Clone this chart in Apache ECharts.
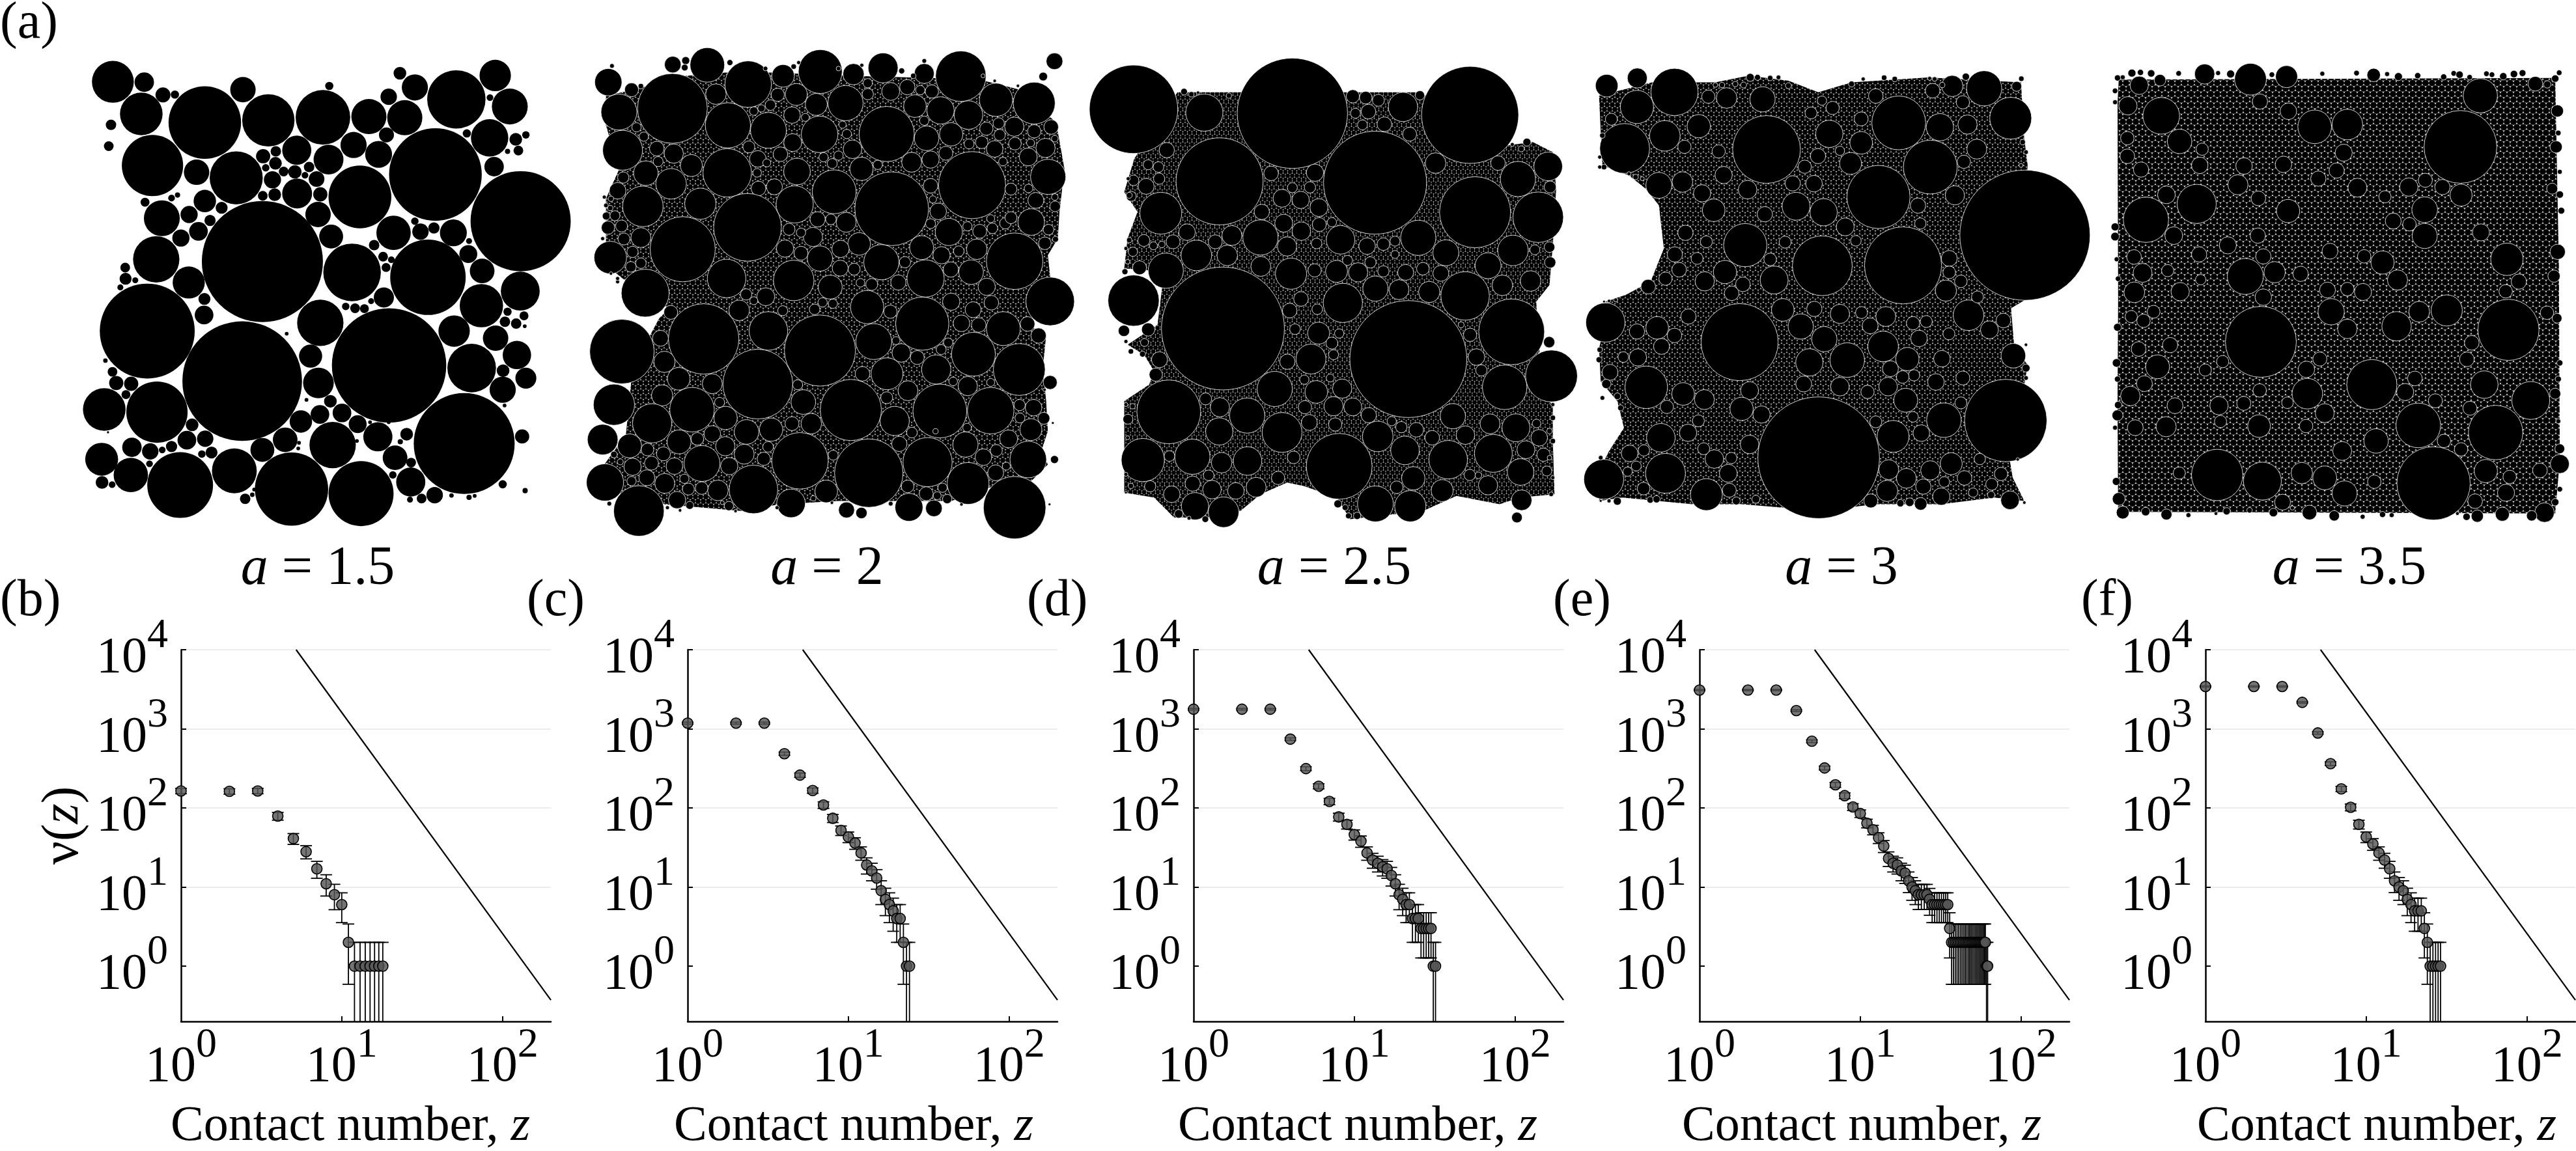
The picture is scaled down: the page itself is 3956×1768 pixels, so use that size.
<!DOCTYPE html>
<html><head><meta charset="utf-8">
<style>html,body{margin:0;padding:0;background:#fff}#c{width:3956px;height:1768px}</style>
<script src="https://cdn.jsdelivr.net/npm/echarts@6/dist/echarts.min.js"></script>
</head><body><div id="c"></div>
<script>
// ---------- contact-number distributions ----------
const zB=[1,2,3,4,5,6,7,8,9,10,11,12,13,14,15,16,17,18];
const vB=[164,162,164,79,41,28,17,11,8,6,2,1,1,1,1,1,1,1];
const eB=[12.8,12.7,12.8,8.9,6.4,5.3,4.1,3.3,2.83,2.45,1.41,1,1,1,1,1,1,1];
const zC=[1,2,3,4,5,6,7,8,9,10,11,12,13,14,15,16,17,18,19,20,21,22,23,24];
const vC=[1180,1180,1180,485,260,166,109,74,52,43,36,27,19,16,13,9,7,6,5,4,4,2,1,1];
const eC=[34.4,34.4,34.4,22,16.1,12.9,10.4,8.6,7.2,6.6,6,5.2,4.4,4,3.6,3,2.65,2.45,2.24,2,2,1.41,1,1];
const zD=[1,2,3,4,5,6,7,8,9,10,11,12,13,14,15,16,17,18,19,20,21,22,23,24,25,26,27,28,29,30,31,32];
const vD=[1770,1770,1770,741,314,188,121,77,62,46,38,27,22,20,18,17,14,11,8,7,6,6,4,4,4,3,3,3,3,3,1,1];
const eD=[42,42,42,27.2,17.7,13.7,11,8.8,7.9,6.8,6.2,5.2,4.7,4.5,4.2,4.1,3.7,3.3,2.83,2.65,2.45,2.45,2,2,2,1.73,1.73,1.73,1.73,1.73,1,1];
const zE=[1,2,3,4,5,6,7,8,9,10,11,12,13,14,15,16,17,18,19,20,21,22,23,24,25,26,27,28,29,30,31,32,33,34,35,36,37,38,39,40,41,42,43,44,45,46,47,48,49,50,51,52,53,54,55,56,57,58,59,60,61,62];
const vE=[3090,3090,3090,1700,697,320,196,143,103,85,64,53,42,33,23,20,19,16,15,12,10,9,8,8,8,8,7,6,6,6,6,6,6,6,6,3,2,2,2,2,2,2,2,2,2,2,2,2,2,2,2,2,2,2,2,2,2,2,2,2,1,1];
const eE=[55.6,55.6,55.6,41.2,26.4,17.9,14,12,10.1,9.2,8,7.3,6.5,5.7,4.8,4.5,4.4,4,3.9,3.5,3.2,3,2.8,2.8,2.8,2.8,2.6,2.45,2.45,2.45,2.45,2.45,2.45,2.45,2.45,1.73,1.41,1.41,1.41,1.41,1.41,1.41,1.41,1.41,1.41,1.41,1.41,1.41,1.41,1.41,1.41,1.41,1.41,1.41,1.41,1.41,1.41,1.41,1.41,1.41,1,1];
const zF=[1,2,3,4,5,6,7,8,9,10,11,12,13,14,15,16,17,18,19,20,21,22,23,24,25,26,27,28,29];
const vF=[3430,3430,3430,2160,886,363,174,102,62,43,35,27,22,17,12,10,9,7,6,5,5,5,3,2,1,1,1,1,1];
const eF=[58.6,58.6,58.6,46.5,29.8,19.1,13.2,10.1,7.9,6.6,5.9,5.2,4.7,4.1,3.5,3.2,3,2.65,2.45,2.24,2.24,2.24,1.73,1.41,1,1,1,1,1];
const refLineZ=[5.2,200];
const refLineV=[10000,0.373];
const panelLetters=['(b)','(c)','(d)','(e)','(f)'];
const aLabels=['1.5','2','2.5','3','3.5'];
const xTicks=[10,100];
const yTicks=[1,10,100,1000,10000];

// ---------- packings: [x, y, r] circles ----------
const pack15=[[302,219,56],[386,220,26],[378,305,57],[436,254,20],[468,253,11],[548,328,97],[650,240,34],[718,322,70],[864,314,73],[881,230,11],[987,312,47],[1040,259,22],[1083,315,47],[1070,196,17],[1110,234,35],[1221,266,78],[1325,202,42],[1364,285,48],[1310,369,50],[1034,361,20],[946,388,35],[1013,413,36],[879,427,40],[794,402,39],[1165,467,124],[1393,592,134],[1322,446,26],[1249,357,11],[1311,261,9],[1380,373,17],[1407,361,10],[1387,403,13],[1358,405,7],[297,334,14],[291,391,13],[408,443,82],[526,461,34],[632,476,71],[548,538,30],[738,405,14],[704,418,19],[737,437,17],[711,449,10],[759,459,13],[789,460,18],[729,481,23],[735,521,17],[703,524,13],[795,518,40],[827,447,14],[847,479,21],[857,520,19],[816,469,9],[963,527,84],[851,574,34],[886,633,32],[433,584,48],[506,574,23],[531,619,25],[484,637,23],[562,590,15],[593,556,16],[702,700,162],[418,694,62],[505,756,43],[335,716,13],[336,746,16],[362,750,8],[322,769,8],[394,886,127],[547,800,16],[546,843,25],[857,864,62],[942,729,77],[1053,623,46],[1125,620,22],[1161,610,15],[1213,623,36],[1110,592,10],[1145,742,101],[1001,656,14],[1025,687,13],[1033,716,12],[1047,695,9],[1253,680,24],[1290,725,33],[1392,779,52],[1027,796,27],[975,826,12],[925,820,10],[950,825,13],[993,806,8],[1288,818,58],[1215,886,42],[1358,834,11],[1402,845,12],[1351,861,14],[1381,866,14],[1404,873,5],[1326,905,34],[1383,950,38],[1407,1012,28],[1346,992,17],[1345,1043,35],[1262,985,65],[1041,978,153],[648,1020,160],[831,953,31],[852,1025,41],[884,1074,17],[856,1109,25],[915,1105,25],[805,1128,30],[957,1135,24],[1011,1169,39],[890,1191,62],[763,1177,33],[702,1204,32],[1242,1187,135],[1397,1168,19],[1088,1162,17],[1071,1182,7],[1057,1225,33],[1100,1238,13],[1051,1271,10],[1099,1290,39],[1163,1325,22],[1128,1334,13],[1097,1337,8],[1208,1326,6],[1255,1331,7],[1270,1327,5],[1345,1296,11],[1405,1313,7],[301,995,13],[311,1025,19],[351,1027,19],[337,1056,12],[279,1096,57],[420,1103,82],[514,1137,17],[500,1178,25],[549,1174,22],[459,1195,15],[402,1208,22],[353,1197,26],[434,1204,9],[272,1229,44],[350,1271,46],[273,1291,17],[300,1297,9],[482,1298,88],[566,1211,16],[540,1215,10],[400,1241,9],[627,1260,60],[780,1309,98],[966,1321,87],[656,1335,14],[675,1324,6],[289,1157,3],[282,965,6],[388,541,12],[459,530,9],[475,522,7],[1255,645,8],[1350,1085,5],[820,1070,5],[767,893,5],[680,1310,5],[800,1185,5],[798,1200,5],[955,1180,5],[990,1130,5],[1040,1130,5]];
const pack20=[[67,169,41],[78,120,7],[137,192,21],[165,181,8],[99,259,54],[260,248,105],[261,116,25],[300,104,12],[297,125,10],[365,117,52],[391,205,31],[488,175,70],[433,110,9],[593,150,34],[705,137,66],[805,145,32],[894,126,45],[1018,143,30],[1018,105,7],[1128,151,76],[1410,106,25],[1376,152,13],[110,374,60],[427,299,68],[549,314,54],[577,207,20],[633,206,33],[693,236,33],[781,232,53],[848,205,17],[917,197,27],[967,184,23],[1006,193,14],[1041,197,20],[990,241,34],[1067,254,41],[1151,268,43],[1234,222,50],[1349,232,63],[703,326,55],[905,325,83],[1025,338,37],[1099,326,35],[1018,285,14],[848,172,14],[1205,309,20],[1242,293,17],[1289,303,29],[1349,317,20],[1400,304,22],[1411,339,10],[1245,328,17],[1191,350,19],[1153,355,15],[1083,383,21],[1037,402,26],[980,410,30],[1230,370,25],[1291,354,19],[1338,352,12],[1383,367,29],[1331,394,27],[1255,408,13],[1391,454,53],[1162,479,101],[622,351,27],[505,256,13],[528,248,11],[555,238,16],[620,268,25],[660,275,12],[772,297,11],[785,325,14],[802,371,28],[760,390,14],[715,395,14],[741,414,15],[829,430,35],[878,418,14],[635,438,40],[585,386,22],[517,400,25],[490,364,18],[425,442,73],[213,369,22],[264,384,29],[317,420,33],[180,443,37],[256,475,46],[217,408,15],[174,333,14],[152,305,14],[112,456,17],[95,496,25],[171,543,61],[344,535,47],[519,489,22],[567,484,24],[515,442,13],[544,412,12],[486,606,102],[747,499,66],[628,537,56],[920,550,111],[1037,481,22],[1044,522,11],[1060,558,25],[1037,595,15],[1092,620,41],[1148,603,14],[1185,618,21],[1223,609,16],[1262,594,17],[1218,580,12],[1279,577,18],[1279,491,18],[1332,489,13],[1354,525,24],[1340,590,40],[1412,543,16],[1411,515,10],[1392,613,16],[1381,654,19],[1413,642,9],[1290,708,85],[1176,672,31],[1122,678,16],[1070,690,26],[1010,667,36],[889,711,53],[960,711,17],[1022,760,56],[1098,733,23],[1159,741,37],[1206,785,26],[1397,829,73],[291,672,98],[165,637,30],[114,641,18],[107,602,18],[66,607,20],[61,572,12],[87,571,15],[73,548,8],[73,697,49],[135,725,16],[140,680,17],[165,714,16],[178,804,72],[423,760,58],[625,766,61],[735,786,36],[846,846,50],[940,772,23],[860,778,18],[826,773,13],[807,732,18],[765,729,24],[704,700,38],[647,684,21],[599,670,26],[683,635,29],[822,656,34],[766,671,26],[611,612,18],[647,622,14],[697,582,23],[737,582,16],[783,591,30],[541,815,27],[482,808,17],[505,827,12],[461,856,31],[592,857,15],[688,853,16],[712,832,14],[743,836,14],[255,862,21],[354,942,106],[549,918,58],[108,980,97],[224,940,24],[236,1011,32],[704,977,107],[866,950,54],[1012,896,80],[916,860,20],[933,947,12],[949,984,28],[997,998,21],[1054,1034,44],[1069,974,15],[1090,953,14],[1166,988,66],[1130,895,25],[1182,900,22],[1165,854,24],[1099,830,26],[1220,833,22],[1256,911,51],[1329,897,22],[1362,932,23],[1304,1034,78],[517,1078,105],[279,1062,34],[380,1077,30],[229,1112,32],[84,1140,62],[319,1155,67],[199,1196,59],[402,1133,15],[420,1180,35],[654,1132,37],[797,1156,92],[637,1080,15],[905,1119,18],[906,1047,48],[832,1047,22],[969,1098,30],[1065,1159,81],[1218,1158,70],[1105,1070,13],[1149,1084,29],[1218,1073,12],[1397,1073,21],[1347,1149,25],[1305,1141,17],[1306,1180,15],[1378,1181,18],[1339,1215,33],[1147,1209,13],[929,1189,44],[981,1224,16],[943,1258,23],[1052,1220,8],[483,1222,37],[557,1215,35],[620,1197,21],[678,1197,31],[380,1228,25],[280,1252,36],[335,1243,19],[131,1264,36],[50,1245,46],[185,1275,19],[233,1288,21],[419,1265,29],[476,1289,30],[548,1267,16],[535,1303,20],[644,1309,85],[744,1292,15],[851,1346,103],[1028,1313,74],[1142,1260,38],[1272,1243,27],[1235,1278,18],[1196,1298,25],[1331,1305,55],[1410,1305,12],[1233,1345,24],[1150,1377,63],[349,1317,54],[266,1325,25],[197,1316,21],[140,1327,26],[237,1377,30],[183,1360,24],[431,1325,26],[504,1395,73],[397,1398,31],[348,1391,19],[308,1394,18],[57,1374,56],[159,1460,76],[274,1427,26],[312,1443,12],[617,1437,43],[723,1401,34],[784,1457,24],[829,1466,17],[972,1449,42],[968,1386,19],[1024,1408,21],[1057,1414,12],[1073,1390,14],[1047,1452,25],[1087,1424,14],[1290,1450,94],[1265,1325,12],[296,1363,14],[137,1370,14],[84,1290,10],[103,1312,9],[70,1438,7],[430,1445,14],[684,1422,8],[917,1438,7],[540,128,7],[625,122,8],[640,110,6],[760,128,7],[830,118,6],[950,135,9],[985,150,8],[1195,150,6],[1230,165,5],[1300,180,5],[55,515,6],[75,520,8],[60,540,7],[50,640,6],[95,770,6],[75,745,5],[95,760,6],[245,1450,6],[283,1458,5],[410,1435,6],[450,1460,5],[575,1450,6],[740,1435,5],[1130,1440,5],[1395,1440,4],[1380,1095,5],[1405,1195,4]];
const pack25=[[178,231,133],[391,241,56],[656,243,166],[989,224,44],[1191,248,146],[838,192,20],[877,196,19],[915,204,18],[846,243,15],[885,238,22],[933,276,22],[1009,306,21],[867,278,15],[1040,189,14],[437,448,131],[905,452,155],[592,424,22],[724,422,26],[1087,393,31],[1275,393,22],[1335,441,53],[1426,403,43],[1432,465,18],[1206,541,107],[1396,556,76],[278,354,23],[222,398,15],[253,405,16],[255,440,17],[216,463,24],[178,445,16],[171,493,15],[260,544,63],[625,499,27],[681,504,26],[736,527,27],[656,467,15],[709,466,17],[564,540,23],[630,574,27],[683,598,28],[737,578,21],[560,617,53],[640,644,29],[801,624,43],[729,635,16],[775,571,14],[881,643,25],[930,637,19],[965,628,15],[1035,618,53],[1118,663,39],[1320,656,46],[1245,702,39],[1430,646,16],[1432,692,17],[1386,654,15],[339,601,25],[297,630,21],[424,630,21],[474,611,30],[209,626,18],[176,660,14],[238,642,12],[263,638,10],[367,671,46],[460,671,31],[275,717,53],[196,708,21],[561,704,30],[652,726,47],[723,716,20],[789,719,33],[854,722,29],[822,686,15],[891,692,17],[930,719,17],[965,668,12],[997,722,24],[1049,711,19],[1103,725,24],[906,771,38],[977,774,30],[1068,781,32],[1176,793,73],[1288,761,31],[1373,748,31],[808,814,59],[682,802,22],[731,833,16],[648,837,22],[178,807,77],[447,891,185],[1005,983,176],[1316,901,99],[1191,910,20],[1164,880,9],[1429,932,17],[149,898,17],[222,894,20],[211,933,12],[735,905,33],[664,893,16],[797,906,14],[775,935,18],[712,983,45],[641,991,23],[780,970,15],[256,985,24],[245,1030,20],[1210,977,25],[1295,1068,67],[1436,1034,78],[1225,1017,17],[603,1073,53],[692,1045,14],[728,1082,34],[806,1072,29],[770,1040,12],[284,1142,96],[395,1103,18],[438,1128,29],[520,1153,53],[625,1204,60],[694,1128,20],[707,1174,24],[780,1125,29],[838,1127,27],[886,1152,23],[955,1170,14],[1139,1155,38],[1029,1196,22],[984,1188,17],[436,1201,41],[785,1180,20],[913,1216,46],[1077,1220,22],[1177,1212,28],[1251,1178,30],[1329,1190,42],[1399,1220,25],[1391,1177,13],[161,1164,15],[206,1287,65],[355,1277,53],[443,1295,31],[521,1290,43],[797,1306,99],[995,1258,43],[1125,1286,58],[1261,1267,57],[1359,1256,27],[1412,1271,20],[1343,1323,40],[286,1275,16],[660,1279,19],[1020,1342,35],[1190,1332,17],[1216,1333,10],[1245,1363,29],[1107,1379,33],[970,1369,19],[906,1419,54],[1011,1426,47],[613,1341,20],[547,1369,30],[486,1380,25],[414,1376,28],[356,1358,23],[293,1390,25],[228,1366,17],[363,1426,41],[449,1444,46],[404,1333,16],[1346,1408,31],[1332,1460,16],[1422,1320,15],[314,1449,13],[394,1465,10],[851,1455,11],[793,1419,12],[330,178,10],[352,186,8],[372,181,5],[465,190,8],[1362,330,12],[1345,350,9],[1318,337,6],[1440,1120,6],[1440,1160,8],[1430,1200,8],[1440,1230,8],[1430,1280,7],[1440,1340,6],[1435,1390,7],[155,1120,6],[175,1125,8],[160,1220,6],[155,1330,6],[170,1365,8],[155,1385,4],[165,625,8],[155,650,6],[160,690,7],[152,720,9],[162,440,6],[165,490,9],[155,930,6],[170,960,8],[205,968,9],[815,1430,9],[825,1455,9],[345,1462,6]];
const pack30=[[93,160,34],[185,137,30],[184,224,50],[297,179,71],[147,349,75],[268,311,46],[107,261,18],[370,282,35],[399,193,20],[454,197,31],[562,201,38],[574,352,102],[763,305,41],[859,332,34],[972,272,81],[1096,285,41],[1179,277,29],[1133,161,32],[1229,168,53],[1309,258,63],[1327,162,15],[1341,139,8],[1174,133,11],[1067,405,81],[911,495,95],[1352,610,196],[1141,490,29],[1207,351,30],[1168,389,20],[1074,175,22],[1165,210,20],[903,191,22],[773,227,20],[859,260,21],[708,242,18],[741,205,14],[327,344,20],[430,358,20],[250,460,39],[321,450,31],[380,484,26],[445,429,26],[517,473,28],[415,535,34],[569,547,23],[663,523,42],[746,541,41],[653,454,23],[717,455,25],[689,404,20],[729,372,23],[827,394,33],[795,356,14],[510,640,65],[330,603,23],[393,630,18],[298,668,23],[365,680,18],[311,714,22],[270,741,20],[218,765,22],[449,721,35],[388,749,29],[597,745,42],[742,702,90],[985,701,116],[811,585,27],[843,627,16],[630,631,18],[585,683,19],[469,785,22],[503,758,22],[1030,521,23],[1037,575,17],[1124,680,24],[1124,722,19],[1114,777,32],[1159,749,19],[89,873,59],[493,932,116],[339,855,23],[245,889,34],[184,900,23],[297,912,22],[258,945,24],[187,978,26],[143,977,16],[103,1023,24],[92,1058,14],[212,1068,64],[323,1088,34],[387,1105,30],[274,1127,20],[369,1169,18],[523,1078,27],[499,1133,35],[559,1150,26],[623,835,34],[677,885,38],[718,832,23],[795,847,29],[860,843,18],[748,923,38],[933,855,30],[886,883,24],[817,986,52],[703,993,41],[925,945,46],[998,983,35],[1033,921,25],[1015,875,20],[1055,870,18],[1102,982,25],[1182,851,46],[1245,895,27],[1287,867,22],[1123,907,18],[1317,973,37],[1209,796,18],[1355,1010,12],[1165,1040,21],[1084,1052,25],[1018,1032,17],[984,1037,19],[940,1066,28],[947,1012,24],[795,1066,28],[686,1058,24],[878,1082,20],[993,1107,36],[1294,1168,124],[731,1280,183],[1108,1167,52],[955,1216,48],[1040,1206,25],[903,1172,18],[1015,1157,16],[1159,1115,18],[256,1220,43],[338,1205,26],[162,1267,25],[205,1258,17],[182,1305,15],[84,1345,60],[270,1327,60],[156,1322,14],[204,1373,19],[125,1411,12],[224,1407,10],[243,1405,11],[393,1391,48],[462,1378,21],[459,1327,27],[417,1284,28],[468,1281,17],[385,1253,18],[523,1240,28],[888,1410,21],[937,1380,32],[942,1316,30],[995,1342,30],[1046,1367,23],[1100,1397,26],[1067,1318,29],[1130,1298,33],[1170,1341,22],[1109,1353,16],[1216,1284,17],[1280,1329,20],[1252,1360,18],[1307,1408,28],[1038,1419,19],[1005,1414,13],[977,1417,11],[1196,1385,14],[1250,1392,11],[542,1405,12],[483,1410,12],[525,135,12],[547,135,9],[585,137,8],[610,135,7],[420,158,7],[440,158,8],[480,155,8],[505,158,9],[640,160,9],[830,155,9],[865,140,6],[928,136,8],[960,140,8],[1065,138,6],[1080,140,7],[1103,158,8],[1345,330,8],[1355,360,7],[1340,400,6],[1355,940,5],[1355,1040,7],[1330,1285,5],[1350,1415,5],[100,1410,6],[75,1410,4],[75,1280,7],[80,1100,7],[125,1095,10],[135,1130,9],[70,985,9],[72,955,8],[80,310,8],[72,375,6],[85,405,8],[72,405,6],[160,425,6],[180,435,8],[200,440,6],[85,810,4],[100,808,5],[120,805,6],[190,775,7]];
const pack35=[[353,108,33],[503,124,52],[621,116,36],[906,111,22],[1255,175,56],[139,143,30],[207,127,19],[102,206,30],[211,237,60],[271,316,40],[534,193,25],[627,223,27],[713,271,55],[820,264,50],[1190,333,119],[1435,138,24],[808,351,28],[345,340,20],[337,390,27],[482,392,27],[611,387,27],[785,406,25],[725,431,25],[853,459,31],[145,403,25],[100,362,24],[100,306,22],[228,481,29],[327,509,64],[161,558,74],[252,607,29],[462,450,33],[529,492,24],[626,531,38],[943,487,20],[1021,457,30],[1075,436,23],[1131,457,25],[1192,482,36],[1073,527,42],[970,562,26],[1073,608,41],[1023,572,22],[527,607,25],[429,637,28],[335,665,25],[1257,597,28],[1342,680,53],[1508,657,25],[545,671,25],[486,733,59],[582,720,35],[667,725,25],[763,655,26],[875,671,22],[935,690,38],[984,744,33],[1381,749,25],[232,715,20],[150,722,31],[122,673,24],[123,782,34],[273,780,30],[340,743,17],[755,775,26],[820,772,22],[871,781,28],[545,797,27],[1338,779,22],[767,842,43],[1055,842,34],[1145,838,51],[1347,898,100],[981,887,48],[820,895,32],[537,935,116],[1227,938,24],[1211,989,24],[1473,845,22],[113,857,20],[153,870,22],[186,842,21],[240,945,25],[137,957,24],[199,1012,39],[355,1022,20],[412,996,20],[686,1020,27],[730,988,23],[900,1067,82],[689,1095,50],[1041,1048,24],[1268,1067,45],[1420,1116,62],[1009,1090,28],[110,1102,32],[156,1064,26],[256,1132,26],[400,1132,30],[481,1125,23],[533,1085,22],[1108,1117,23],[1221,1140,23],[746,1155,31],[1052,1193,73],[1305,1215,89],[624,1123,19],[531,1195,37],[227,1197,33],[126,1200,26],[405,1181,20],[68,1162,18],[685,1195,22],[914,1241,40],[1136,1241,22],[1192,1267,22],[803,1272,31],[394,1346,84],[542,1365,62],[671,1340,35],[746,1355,39],[811,1403,41],[1102,1372,120],[1273,1334,38],[1515,1312,31],[1351,1352,22],[1339,1401,28],[1450,1332,24],[908,1367,22],[270,1340,20],[1238,1427,24],[608,1430,26],[696,1462,24],[777,1472,17],[85,1462,21],[72,1420,21],[64,1366,13],[1465,1462,32],[1327,1467,23],[1245,1473,20],[1423,1472,17],[160,1459,14],[228,1468,18],[578,1462,14],[1515,1265,16],[1500,1095,18],[1507,222,20],[1503,333,20],[1496,732,20],[1506,862,16],[1490,462,18],[115,105,13],[143,103,10],[178,106,12],[268,106,9],[397,105,8],[438,108,13],[573,110,9],[738,107,8],[850,105,9],[950,108,8],[987,116,13],[1050,113,10],[1135,117,10],[1168,106,9],[1187,110,12],[1220,118,9],[1275,107,9],[1293,110,9],[1330,115,12],[1365,108,12],[1393,105,11],[1513,104,9],[1500,122,12],[1474,140,12],[68,120,10],[60,160,9],[85,118,8],[60,195,8],[60,580,13],[60,610,14],[65,680,8],[70,740,9],[68,890,13],[65,1000,14],[68,1050,10],[70,1130,12],[60,1200,8],[1520,530,11],[1515,480,12],[1515,410,8],[1510,290,9],[1515,1000,10],[1510,1050,10],[1510,1180,8],[1515,1390,9],[1500,1430,12],[300,1470,8],[390,1465,6],[425,1458,12],[500,1455,9],[640,1448,7],[870,1475,8],[935,1468,10],[965,1470,8],[1180,1465,6],[1210,1475,12]];
// outlines of the fine-grained mass of tiny circles
const outline20=[[60,210],[150,190],[300,150],[420,140],[560,140],[800,150],[1180,160],[1300,190],[1415,290],[1440,430],[1425,560],[1420,640],[1390,690],[1400,780],[1330,900],[1385,930],[1375,1030],[1385,1130],[1390,1220],[1370,1280],[1390,1320],[1340,1370],[1210,1390],[1100,1430],[900,1430],[760,1430],[580,1440],[470,1460],[240,1440],[110,1420],[55,1320],[120,1230],[140,1030],[220,880],[250,850],[110,760],[60,720],[60,520],[100,430],[60,300]];
const outline25=[[180,380],[310,180],[490,180],[830,180],[1040,180],[1300,340],[1380,330],[1440,360],[1450,470],[1440,640],[1430,760],[1390,810],[1400,960],[1360,1050],[1440,1120],[1440,1230],[1445,1390],[1340,1400],[1280,1420],[1150,1395],[1050,1440],[830,1465],[790,1400],[690,1365],[640,1355],[560,1390],[500,1440],[400,1460],[300,1460],[240,1400],[150,1385],[150,1110],[225,1060],[240,1020],[210,970],[160,940],[250,880],[270,720],[150,710],[160,620],[190,540],[150,480]];
const outline30=[[70,190],[230,150],[420,150],[520,130],[640,145],[730,180],[830,150],[1060,135],[1340,150],[1350,320],[1360,400],[1340,650],[1360,800],[1310,830],[1320,950],[1360,1000],[1350,1060],[1200,1100],[1300,1250],[1315,1340],[1350,1410],[1260,1400],[1100,1420],[900,1420],[740,1440],[500,1420],[350,1420],[140,1400],[70,1410],[80,1300],[100,1260],[145,1190],[125,1110],[75,1050],[70,950],[100,830],[90,810],[150,790],[225,750],[265,650],[250,520],[210,470],[160,430],[80,400],[75,300]];
const outline35=[[72,125],[1500,120],[1512,700],[1515,1300],[1500,1465],[70,1460],[68,1130],[70,800],[68,200]];

// ---------- layout ----------
const FONT='"Liberation Serif","Times New Roman",serif';
const topBoxes=[[0,0,900,900],[900,40,800,800],[1650,50,800,800],[2420,50,800,800],[3220,60,736,780]];
const plotLefts=[278,1056,1833,2610,3387];
const plotW=568, plotTop=998, plotH=571;
const labelCx=[538,1311,2085,2859,3650];
const letterX=[0,809,1577,2385,3196];
const aCx=[488,1270,2049,2828,3608];

function tile(s,r){
  const h=Math.round(s*1.732), c=document.createElement('canvas');
  c.width=s;c.height=h;
  const g=c.getContext('2d');g.fillStyle='#fff';g.fillRect(0,0,s,h);g.fillStyle='#000';
  [[0,0],[s,0],[0,h],[s,h],[s/2,h/2]].forEach(p=>{g.beginPath();g.arc(p[0],p[1],r,0,7);g.fill();});
  return {image:c,repeat:'repeat'};
}
const grids=[],xAxes=[],yAxes=[],series=[],graphics=[];
const packs=[pack15,pack20,pack25,pack30,pack35];
const outlines=[null,outline20,outline25,outline30,outline35];
const tiles=[null,tile(8,3.95),tile(7,3.45),tile(8,3.95),tile(10,5.0)];

topBoxes.forEach((b,i)=>{
  grids.push({left:b[0],top:b[1],width:b[2],height:b[3],show:false});
  xAxes.push({type:'value',gridIndex:i,min:0,max:1568,show:false});
  yAxes.push({type:'value',gridIndex:i,min:0,max:1568,inverse:true,show:false});
  if(outlines[i]){
    const pts=outlines[i], fill=tiles[i];
    series.push({type:'custom',xAxisIndex:i,yAxisIndex:i,silent:true,z:1,clip:false,data:[0],
      renderItem:(p,api)=>({type:'polygon',shape:{points:pts.map(q=>api.coord(q))},style:{fill:fill,stroke:null}})});
  }
  series.push({type:'custom',xAxisIndex:i,yAxisIndex:i,silent:true,z:2,clip:false,
    data:packs[i],dimensions:['x','y','r'],encode:{x:0,y:1},
    renderItem:(p,api)=>{
      const c=api.coord([api.value(0),api.value(1)]);
      const r=api.size([api.value(2),api.value(2)])[0];
      return {type:'circle',shape:{cx:c[0],cy:c[1],r:r},style:{fill:'#000',stroke:'#fff',lineWidth:i===0?0:0.8}};
    }});
});

function expLabel(v){return '{b|10}{s|'+Math.round(Math.log10(v))+'}';}
const richTick={
  b:{fontFamily:FONT,fontSize:78,lineHeight:105,verticalAlign:'bottom',color:'#000'},
  s:{fontFamily:FONT,fontSize:64,lineHeight:60,verticalAlign:'top',color:'#000'}
};
const dataZ=[zB,zC,zD,zE,zF],dataV=[vB,vC,vD,vE,vF],dataE=[eB,eC,eD,eE,eF];
plotLefts.forEach((L,k)=>{
  const gi=grids.length;
  grids.push({left:L,top:plotTop,width:plotW,height:plotH,show:false});
  xAxes.push({type:'log',logBase:10,gridIndex:gi,min:1,max:200,
    axisLine:{show:true,onZero:false,lineStyle:{color:'#000',width:2.5}},
    axisTick:{show:true,inside:true,length:8,lineStyle:{color:'#000',width:2},customValues:xTicks},
    axisLabel:{show:true,margin:5,customValues:[1,10,100],formatter:expLabel,rich:richTick,hideOverlap:false,showMinLabel:true,showMaxLabel:true},
    splitLine:{show:true,showMinLine:false,showMaxLine:false,lineStyle:{color:'#e6e6e6',width:1.5}},minorTick:{show:false},minorSplitLine:{show:false}});
  yAxes.push({type:'log',logBase:10,gridIndex:gi,min:0.2,max:10000,
    axisLine:{show:true,onZero:false,lineStyle:{color:'#000',width:2.5}},
    axisTick:{show:true,inside:true,length:8,lineStyle:{color:'#000',width:2},customValues:yTicks},
    axisLabel:{show:true,margin:20,customValues:yTicks,formatter:expLabel,rich:richTick,hideOverlap:false,showMinLabel:true,showMaxLabel:true},
    splitLine:{show:true,showMinLine:false,lineStyle:{color:'#e6e6e6',width:1.5}},minorTick:{show:false},minorSplitLine:{show:false}});
  const rows=dataZ[k].map((z,j)=>[z,dataV[k][j],dataE[k][j]]);
  series.push({type:'line',xAxisIndex:gi,yAxisIndex:gi,silent:true,symbol:'none',z:3,
    data:refLineZ.map((z,j)=>[z,refLineV[j]]),lineStyle:{color:'#000',width:2.2}});
  series.push({type:'custom',xAxisIndex:gi,yAxisIndex:gi,silent:true,z:4,clip:false,data:rows,encode:{x:0,y:1},
    renderItem:(p,api)=>{
      const z=api.value(0),v=api.value(1),e=api.value(2);
      const lowV=v-e, floor=0.2;
      const hi=api.coord([z,v+e]), lo=api.coord([z,Math.max(lowV,floor)]);
      const st={stroke:'#000',lineWidth:1.8,fill:null};
      const kids=[{type:'line',shape:{x1:hi[0],y1:hi[1],x2:lo[0],y2:lo[1]},style:st},
        {type:'line',shape:{x1:hi[0]-9,y1:hi[1],x2:hi[0]+9,y2:hi[1]},style:st}];
      if(lowV>floor) kids.push({type:'line',shape:{x1:lo[0]-9,y1:lo[1],x2:lo[0]+9,y2:lo[1]},style:st});
      return {type:'group',children:kids};
    }});
  series.push({type:'scatter',xAxisIndex:gi,yAxisIndex:gi,silent:true,z:5,clip:false,symbol:'circle',symbolSize:16,
    data:rows.map(r=>[r[0],r[1]]),itemStyle:{color:'rgba(85,85,85,0.82)',borderColor:'#000',borderWidth:1.6,opacity:1}});
  graphics.push({type:'text',x:labelCx[k],y:1731,silent:true,style:{text:'{n|Contact number, }{i|z}',align:'center',verticalAlign:'middle',
    rich:{n:{fontFamily:FONT,fontSize:76,fill:'#000',color:'#000'},i:{fontFamily:FONT,fontSize:76,fontStyle:'italic',fill:'#000',color:'#000'}}}});
  graphics.push({type:'text',x:letterX[k],y:924,silent:true,style:{text:panelLetters[k],fontFamily:FONT,fontSize:80,fill:'#000',align:'left',verticalAlign:'middle'}});
  graphics.push({type:'text',x:aCx[k],y:875,silent:true,style:{text:'{i|a}{n| = '+aLabels[k]+'}',align:'center',verticalAlign:'middle',
    rich:{n:{fontFamily:FONT,fontSize:84,fill:'#000',color:'#000'},i:{fontFamily:FONT,fontSize:84,fontStyle:'italic',fill:'#000',color:'#000'}}}});
});
graphics.push({type:'text',x:0,y:37,silent:true,style:{text:'(a)',fontFamily:FONT,fontSize:80,fill:'#000',align:'left',verticalAlign:'middle'}});
graphics.push({type:'text',x:98,y:1268,rotation:Math.PI/2,silent:true,style:{text:'{n|ν(}{i|z}{n|)}',align:'center',verticalAlign:'middle',
  rich:{n:{fontFamily:FONT,fontSize:80,fill:'#000',color:'#000'},i:{fontFamily:FONT,fontSize:80,fontStyle:'italic',fill:'#000',color:'#000'}}}});

const chart=echarts.init(document.getElementById('c'),null,{renderer:'canvas'});
chart.setOption({animation:false,backgroundColor:'#fff',textStyle:{fontFamily:FONT},grid:grids,xAxis:xAxes,yAxis:yAxes,series:series,graphic:graphics});
</script></body></html>
